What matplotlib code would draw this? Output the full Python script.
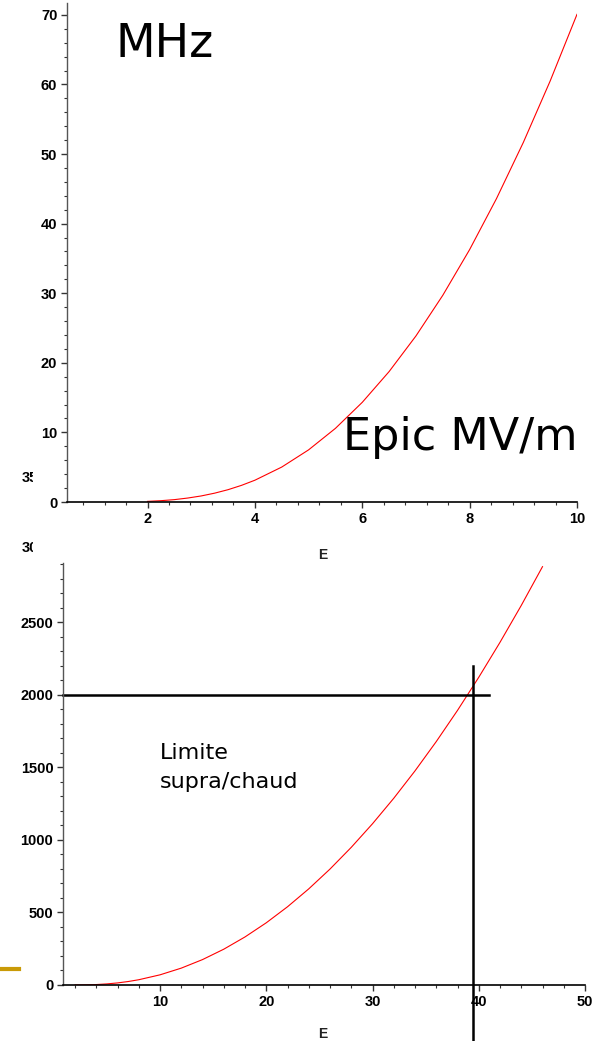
import matplotlib
matplotlib.use("Agg")
import matplotlib.pyplot as plt
from matplotlib.ticker import MultipleLocator
from matplotlib.transforms import Bbox
from matplotlib.lines import Line2D

# data (frequency in MHz vs field E in MV/m)
E_top = [2.0, 2.25, 2.5, 2.75, 3.0, 3.25, 3.5, 3.75, 4.0, 4.5, 5.0, 5.5, 6.0, 6.5, 7.0, 7.5,
         8.0, 8.5, 9.0, 9.5, 10.0]
f_top = [0.09, 0.19, 0.34, 0.57, 0.87, 1.27, 1.77, 2.39, 3.13, 5.02, 7.49, 10.58, 14.32,
         18.74, 23.86, 29.70, 36.27, 43.59, 51.66, 60.49, 70.07]

E_bot = [2, 3, 4, 5, 6, 7, 8, 10, 12, 14, 16, 18, 20, 22, 24, 26, 28, 30, 32, 34, 36, 38,
         40, 42, 44, 46]
f_bot = [0.1, 0.9, 3.1, 7.5, 14.3, 23.9, 36.3, 70.1, 116.3, 175.2, 246.8, 331.4, 428.9,
         539.4, 662.9, 799.5, 949.2, 1111.9, 1287.6, 1476.5, 1678.5, 1893.6, 2121.8, 2363.0,
         2617.2, 2884.8]

limit_freq = 2000
limit_E = 39.5

W, H = 596, 1041
fig = plt.figure(figsize=(W / 100, H / 100), dpi=100)
fig.patch.set_facecolor("white")


def px_axes(l, r, t, b):
    return fig.add_axes([l / W, 1 - b / H, (r - l) / W, (b - t) / H])


def style(ax):
    for s in ["top", "right"]:
        ax.spines[s].set_visible(False)
    ax.spines["left"].set_color("#555555")
    ax.spines["bottom"].set_color("black")
    ax.spines["left"].set_linewidth(1.0)
    ax.spines["bottom"].set_linewidth(1.2)
    ax.tick_params(which="major", direction="out", length=4, width=1, colors="#333333",
                   labelcolor="black", labelsize=10.5, pad=3)
    ax.tick_params(which="minor", direction="out", length=2.5, width=0.8, colors="#333333")
    for lab in ax.get_xticklabels() + ax.get_yticklabels():
        lab.set_fontweight("bold")
        lab.set_family("Liberation Sans")


# top chart
ax1 = px_axes(67, 577, 3, 502)
ax1.plot(E_top, f_top, color="red", lw=0.8)
ax1.set_xlim(0.5, 10)
ax1.set_ylim(0, 71.7)
ax1.set_xticks([2, 4, 6, 8, 10])
ax1.set_yticks([0, 10, 20, 30, 40, 50, 60, 70])
ax1.xaxis.set_minor_locator(MultipleLocator(0.4))
ax1.yaxis.set_minor_locator(MultipleLocator(2))
style(ax1)

# bottom chart
ax2 = px_axes(63, 585, 563, 985)
ax2.plot(E_bot, f_bot, color="red", lw=0.8)
ax2.plot([0.87, 41], [limit_freq, limit_freq], color="black", lw=1.8, clip_on=False)
ax2.plot([limit_E, limit_E], [-420, 2200], color="black", lw=1.8, clip_on=False)
ax2.set_xlim(0.87, 50)
ax2.set_ylim(0, 2910)
ax2.set_xticks([10, 20, 30, 40, 50])
ax2.set_yticks([0, 500, 1000, 1500, 2000, 2500])
ax2.xaxis.set_minor_locator(MultipleLocator(2))
ax2.yaxis.set_minor_locator(MultipleLocator(100))
style(ax2)

# axis names
fig.text(323 / W, 1 - 555 / H, "E", ha="center", va="center", fontsize=10,
         color="#222222", family="Liberation Sans", fontweight="bold")
fig.text(323 / W, 1 - 1034 / H, "E", ha="center", va="center", fontsize=10,
         color="#222222", family="Liberation Sans", fontweight="bold")

# clipped leftovers of other labels at left edge
for y, s in [(478, "35"), (548, "30")]:
    t = fig.text(22 / W, 1 - y / H, s, ha="left", va="center", fontsize=10.5,
                 fontweight="bold", family="Liberation Sans")
    t.set_clip_box(Bbox([[0, 0], [33, H]]))
    t.set_clip_on(True)

# gold bullet line
fig.add_artist(Line2D([0, 19 / W], [1 - 969 / H, 1 - 969 / H], color="#C99A06", lw=3))

# annotations
fig.text(115 / W, 1 - 57 / H, "MHz", fontsize=33, ha="left", va="baseline", color="black")
fig.text(343 / W, 1 - 450 / H, "Epic MV/m", fontsize=32, ha="left", va="baseline", color="black")
fig.text(160 / W, 1 - 759 / H, "Limite", fontsize=16, ha="left", va="baseline", color="black")
fig.text(160 / W, 1 - 788 / H, "supra/chaud", fontsize=16, ha="left", va="baseline", color="black")

fig.savefig("out.png", dpi=100)
